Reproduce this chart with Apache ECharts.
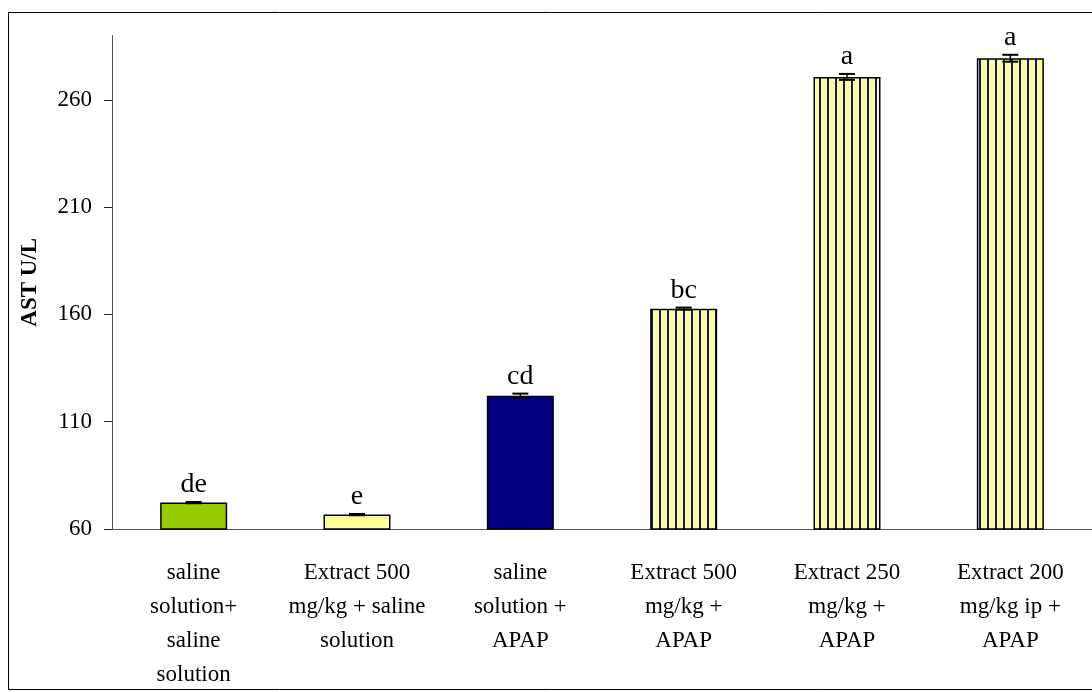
<!DOCTYPE html>
<html>
<head>
<meta charset="utf-8">
<script src="https://cdn.jsdelivr.net/npm/echarts@6/dist/echarts.min.js"></script>
<style>
html,body{margin:0;padding:0;background:#fff;}
#chart{width:1092px;height:692px;}
</style>
</head>
<body>
<div id="chart"></div>
<script>
const categories = [
  'saline\nsolution+\nsaline\nsolution',
  'Extract 500\nmg/kg + saline\nsolution',
  'saline\nsolution +\nAPAP',
  'Extract 500\nmg/kg +\nAPAP',
  'Extract 250\nmg/kg +\nAPAP',
  'Extract 200\nmg/kg ip +\nAPAP'
];
const values = [72.3, 66.7, 122.1, 162.7, 270.7, 279.4];
const errors = [0.3, 0.3, 1.0, 0.5, 1.4, 1.6];
const letters = ['de', 'e', 'cd', 'bc', 'a', 'a'];
const yTicks = [60, 110, 160, 210, 260];
const yTitle = 'AST U/L';

const FONT = "'Liberation Serif', 'Times New Roman', serif";

// stripe pattern (yellow with navy vertical lines)
const pc = document.createElement('canvas');
pc.width = 8; pc.height = 8;
const pctx = pc.getContext('2d');
pctx.fillStyle = '#FFFF99';
pctx.fillRect(0, 0, 8, 8);
pctx.fillStyle = '#141480';
pctx.fillRect(3, 0, 2, 8);
const stripe = { image: pc, repeat: 'repeat' };

const fills = ['#99CC00', '#FFFF99', '#000080', stripe, stripe, stripe];

const chart = echarts.init(document.getElementById('chart'), null, { renderer: 'canvas' });

chart.setOption({
  animation: false,
  backgroundColor: '#fff',
  graphic: [{
    type: 'rect',
    shape: { x: 8.5, y: 12.5, width: 1100, height: 677 },
    style: { fill: 'none', stroke: '#000', lineWidth: 1 },
    silent: true,
    z: -10
  }],
  grid: { left: 112, right: -1, top: 35.5, bottom: 163 },
  xAxis: {
    type: 'category',
    data: categories,
    axisLine: { lineStyle: { color: '#555', width: 1 } },
    axisTick: { length: 9, lineStyle: { color: '#222', width: 1 } },
    axisLabel: {
      interval: 0,
      margin: 27,
      fontFamily: FONT,
      fontSize: 23,
      lineHeight: 34,
      color: '#000'
    }
  },
  yAxis: {
    type: 'value',
    min: 60,
    max: 290,
    interval: 50,
    name: yTitle,
    nameLocation: 'middle',
    nameRotate: 90,
    nameGap: 70,
    nameTextStyle: { fontFamily: FONT, fontSize: 23, fontWeight: 'bold', color: '#000' },
    splitLine: { show: false },
    axisLine: { show: true, lineStyle: { color: '#555', width: 1 } },
    axisTick: { show: true, length: 8, customValues: yTicks, lineStyle: { color: '#222', width: 1 } },
    axisLabel: {
      customValues: yTicks,
      margin: 20,
      fontFamily: FONT,
      fontSize: 23,
      color: '#000'
    }
  },
  series: [
    {
      type: 'bar',
      barWidth: 67,
      data: values.map((v, i) => ({
        value: v,
        itemStyle: { color: fills[i], borderColor: '#000', borderWidth: 1.5 }
      }))
    },
    {
      type: 'custom',
      z: 5,
      data: values.map((v, i) => [i, v, errors[i]]),
      renderItem: function (params, api) {
        const i = api.value(0), v = api.value(1), e = api.value(2);
        const top = api.coord([i, v + e]);
        const bot = api.coord([i, v - e]);
        const x = top[0];
        const hw = 8;
        return {
          type: 'group',
          children: [
            { type: 'line', shape: { x1: x, y1: top[1], x2: x, y2: bot[1] }, style: { stroke: '#000', lineWidth: 1.5 } },
            { type: 'line', shape: { x1: x - hw, y1: top[1], x2: x + hw, y2: top[1] }, style: { stroke: '#000', lineWidth: 2 } },
            { type: 'line', shape: { x1: x - hw, y1: bot[1], x2: x + hw, y2: bot[1] }, style: { stroke: '#000', lineWidth: 2 } },
            {
              type: 'text',
              style: {
                x: x, y: top[1] - 3,
                text: letters[params.dataIndex],
                font: '28px ' + FONT,
                fill: '#000',
                align: 'center',
                verticalAlign: 'bottom'
              }
            }
          ]
        };
      }
    }
  ]
});
</script>
</body>
</html>
